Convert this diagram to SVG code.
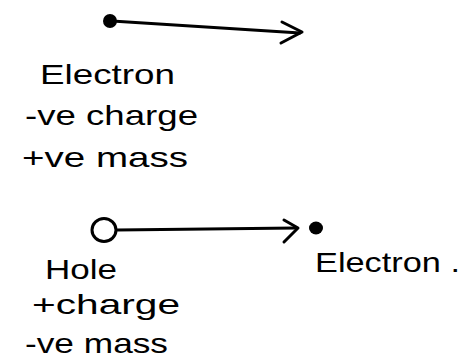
<svg xmlns="http://www.w3.org/2000/svg" width="461" height="358" viewBox="0 0 461 358">
<style>
.t{font-family:"Liberation Sans",Arial,sans-serif;font-size:28px;fill:#000}
.ln{stroke:#000;stroke-width:3;fill:none;stroke-linecap:round;stroke-linejoin:round}
</style>
<rect width="461" height="358" fill="#fff"/>
<g id="connectors">
<path class="ln" d="M112,21 L300,33"/>
<path class="ln" d="M282,22 L302,32 L281,43"/>
<path class="ln" d="M117,230 L296,228"/>
<path class="ln" d="M284,220 L298,228 L284,242"/>
</g>
<g id="electron-top">
<circle cx="110" cy="21" r="7" fill="#000"/>
<text class="t" x="40" y="84" textLength="135" lengthAdjust="spacingAndGlyphs">Electron</text>
<text class="t" x="25" y="125" textLength="173" lengthAdjust="spacingAndGlyphs">-ve charge</text>
<text class="t" x="22" y="167" textLength="166" lengthAdjust="spacingAndGlyphs">+ve mass</text>
</g>
<g id="hole">
<ellipse class="ln" cx="104" cy="230" rx="12" ry="11.5"/>
<text class="t" x="45" y="279" textLength="72" lengthAdjust="spacingAndGlyphs">Hole</text>
<text class="t" x="32" y="314" textLength="148" lengthAdjust="spacingAndGlyphs">+charge</text>
<text class="t" x="25" y="353" textLength="143" lengthAdjust="spacingAndGlyphs">-ve mass</text>
</g>
<g id="electron-bottom">
<ellipse cx="316" cy="228" rx="7" ry="6.5" fill="#000"/>
<text class="t" x="315" y="272" textLength="145" lengthAdjust="spacingAndGlyphs">Electron .</text>
</g>
</svg>
